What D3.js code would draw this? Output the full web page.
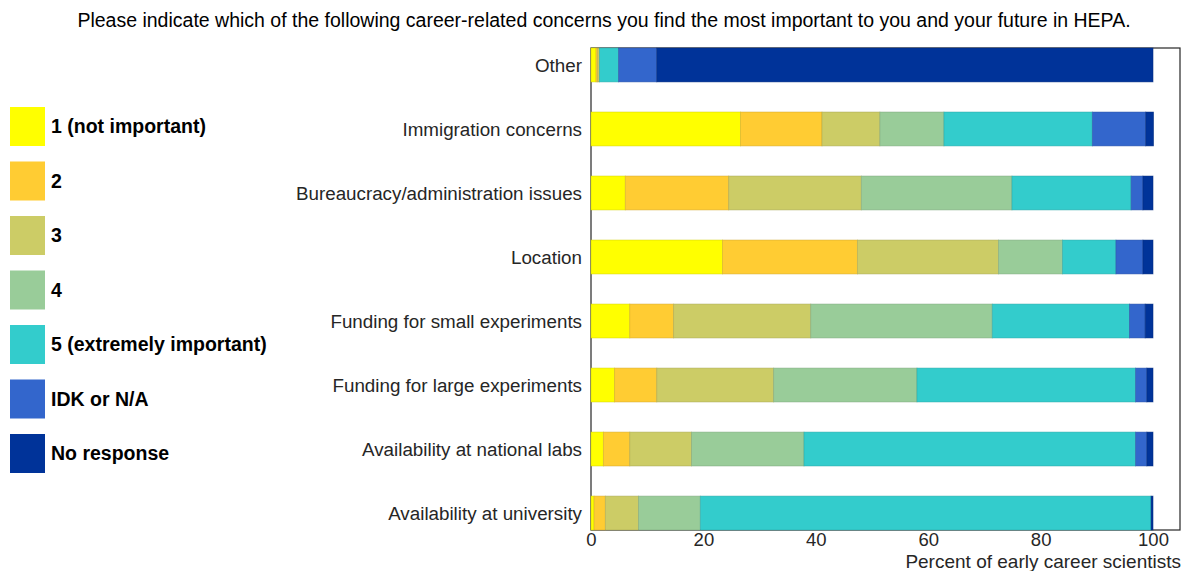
<!DOCTYPE html>
<html><head><meta charset="utf-8">
<script src="https://cdn.jsdelivr.net/npm/d3@7/dist/d3.min.js"></script>
<style>body{margin:0;background:#fff;font-family:"Liberation Sans",Arial,sans-serif;}</style>
</head><body><svg id="c" width="1182" height="571"></svg>
<script>
const title = "Please indicate which of the following career-related concerns you find the most important to you and your future in HEPA.";
const categories = ["Other","Immigration concerns","Bureaucracy/administration issues","Location","Funding for small experiments","Funding for large experiments","Availability at national labs","Availability at university"];
const seriesNames = ["1 (not important)","2","3","4","5 (extremely important)","IDK or N/A","No response"];
const seriesColors = ["#FFFF00","#FFCC33","#CCCC66","#99CC99","#33CCCC","#3366CC","#003399"];
// values per category, in series order (percent)
const s1 = [0.9, 26.6, 6.1, 23.4, 6.9, 4.2, 2.2, 0.55];
const s2 = [0.3, 14.5, 18.4, 24.0, 7.8, 7.5, 4.7, 2.0];
const s3 = [0.3, 10.3, 23.6, 25.1, 24.4, 20.8, 11.0, 5.9];
const s4 = [0.0, 11.4, 26.8, 11.4, 32.3, 25.5, 20.0, 11.0];
const s5 = [3.4, 26.4, 21.2, 9.5, 24.4, 38.9, 59.0, 80.2];
const sIDK = [6.8, 9.5, 2.1, 4.8, 2.8, 2.0, 2.0, 0.0];
const sNR = [88.3, 1.4, 1.8, 1.8, 1.4, 1.1, 1.1, 0.35];
const xTicks = [0,20,40,60,80,100];
const xLabel = "Percent of early career scientists";

(function(){
const series = [s1,s2,s3,s4,s5,sIDK,sNR];
const svg = d3.select("#c");
const pL = 591, pR = 1180, pT = 48, pB = 530;
const x = d3.scaleLinear().domain([0,104.8]).range([pL,pR]);
const y = d3.scaleBand().domain(categories).range([pT,pB]).paddingInner(0.47).paddingOuter(0);

// axes box
svg.append("rect").attr("x",pL).attr("y",pT).attr("width",pR-pL).attr("height",pB-pT)
  .attr("fill","none").attr("stroke","#262626").attr("stroke-width",1.2);

const rows = categories.map((c,i)=>{
  let acc=0; return series.map((s,k)=>{const v={cat:c,k,x0:acc,x1:acc+s[i]}; acc+=s[i]; return v;});
}).flat();
svg.append("g").selectAll("rect").data(rows).join("rect")
  .attr("x",d=>x(d.x0)).attr("width",d=>Math.max(0,x(d.x1)-x(d.x0)))
  .attr("y",d=>y(d.cat)).attr("height",y.bandwidth())
  .attr("fill",d=>seriesColors[d.k])
  .attr("stroke",d=>d3.color(seriesColors[d.k]).darker(0.6)).attr("stroke-opacity",0.6).attr("stroke-width",0.8);

// y labels
svg.append("g").selectAll("text").data(categories).join("text")
  .attr("x",582).attr("y",d=>y(d)+y.bandwidth()/2).attr("dy","0.35em")
  .attr("text-anchor","end").attr("font-size",18.8).attr("fill","#262626").text(d=>d);

// x axis
const xa = svg.append("g").attr("transform",`translate(0,${pB})`)
  .call(d3.axisBottom(x).tickValues(xTicks).tickSize(0).tickPadding(3));
xa.select(".domain").remove();
xa.selectAll("text").attr("font-size",18.5).attr("fill","#262626").attr("font-family","'Liberation Sans',Arial,sans-serif");
svg.append("text").attr("x",1181).attr("y",568).attr("text-anchor","end")
  .attr("font-size",19).attr("fill","#262626").text(xLabel);

// title
svg.append("text").attr("x",604).attr("y",27).attr("text-anchor","middle")
  .attr("font-size",19.5).attr("fill","#000").text(title);

// legend
const lg = svg.append("g").selectAll("g").data(seriesNames).join("g")
  .attr("transform",(d,i)=>`translate(10,${107+i*54.5})`);
lg.append("rect").attr("width",35).attr("height",39).attr("fill",(d,i)=>seriesColors[i]);
lg.append("text").attr("x",41).attr("y",19.5).attr("dy","0.35em").attr("font-size",19.5)
  .attr("font-weight","bold").attr("fill","#000").text(d=>d);
})();
</script></body></html>
